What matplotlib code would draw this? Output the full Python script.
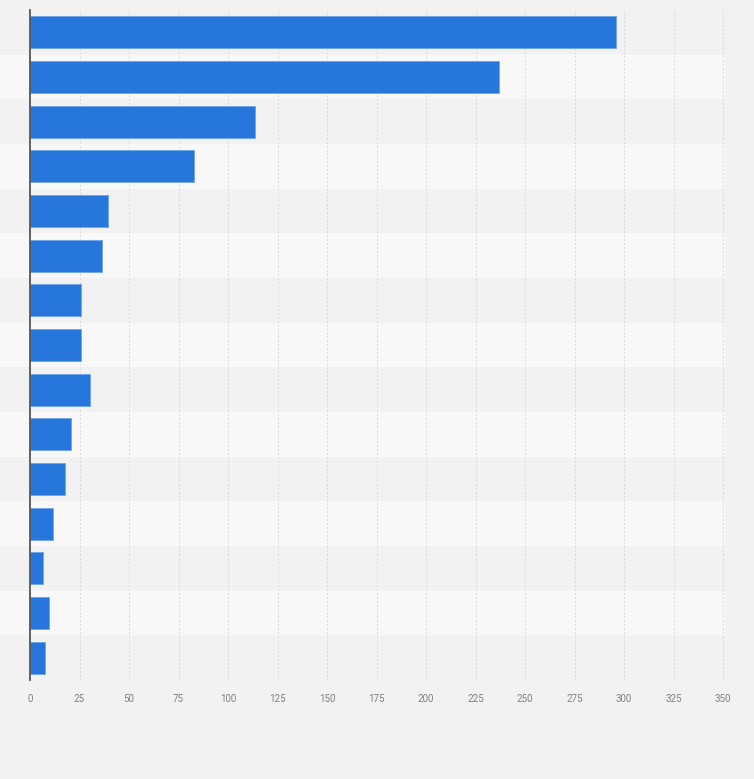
import matplotlib
matplotlib.use("Agg")
import matplotlib.pyplot as plt
import numpy as np

# values, top bar first
values = [295.8, 236.7, 113.6, 82.8, 39.4, 36.5, 25.9, 25.9, 30.4, 20.7, 17.8, 11.6, 6.6, 9.6, 7.6]
xticks = [0, 25, 50, 75, 100, 125, 150, 175, 200, 225, 250, 275, 300, 325, 350]

plt.rcParams['font.family'] = ['Roboto', 'DejaVu Sans']

fig = plt.figure(figsize=(7.54, 7.79), dpi=100, facecolor='#f2f2f2')
ax = fig.add_axes([30 / 754, 99 / 779, 695 / 754, 670 / 779])
ax.set_facecolor('#f2f2f2')

n = len(values)
y = np.arange(n)

# alternating row stripes
for i in y:
    col = '#f2f2f2' if i % 2 == 0 else '#f8f8f8'
    ax.axhspan(i - 0.5, i + 0.5, xmin=-0.045, xmax=1.0, color=col, zorder=0, clip_on=False, lw=0)

ax.barh(y, values, height=0.71, color='#2776db', edgecolor='#6fa3ea', linewidth=0.6, zorder=3)

ax.set_ylim(n - 0.5, -0.5)
ax.set_xlim(0, 351)
ax.set_xticks(xticks)
ax.set_xticklabels([str(t) for t in xticks], fontsize=7, color='#808080')
ax.set_yticks([])
ax.tick_params(axis='x', length=0, pad=10)

ax.grid(axis='x', color='#d9d9d9', linestyle=(0, (2, 2)), linewidth=0.7, zorder=1)
for s in ['top', 'right', 'bottom']:
    ax.spines[s].set_visible(False)
ax.spines['left'].set_color('#555555')
ax.spines['left'].set_linewidth(1.3)
ax.spines['left'].set_zorder(4)

fig.savefig('out.png', dpi=100, facecolor=fig.get_facecolor())
